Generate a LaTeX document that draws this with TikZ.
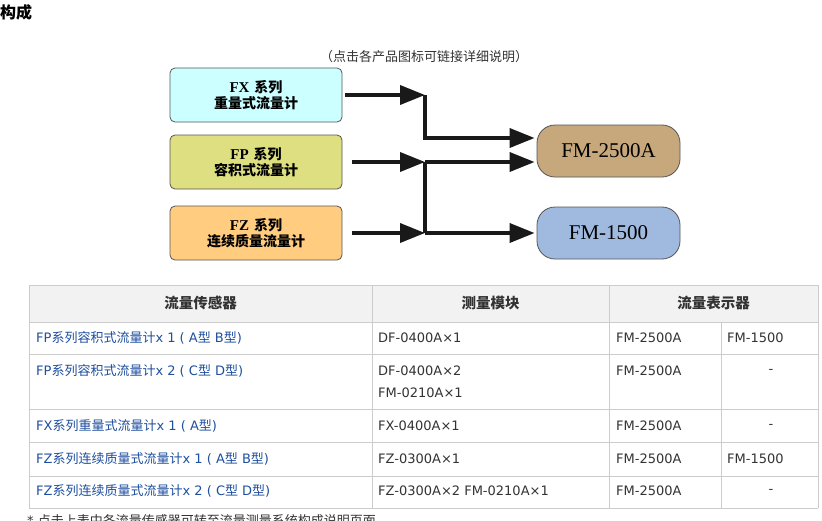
\documentclass[tikz,border=0pt]{standalone}
\usepackage{fontspec}
\setmainfont{DejaVu Sans}
\newfontfamily\cjk{Noto Sans CJK SC}
\newfontfamily\serifrm{Liberation Serif}
\usetikzlibrary{arrows.meta,calc}
\definecolor{fxcol}{HTML}{CCFFFF}
\definecolor{fpcol}{HTML}{DDDF80}
\definecolor{fzcol}{HTML}{FFCC80}
\definecolor{mAcol}{HTML}{C6A87C}
\definecolor{mBcol}{HTML}{A0B9DE}
\definecolor{boxedge}{HTML}{555555}
\definecolor{grid}{HTML}{CCCCCC}
\definecolor{headbg}{HTML}{F2F2F2}
\definecolor{linkcol}{HTML}{1F4F9F}
\definecolor{txt}{HTML}{333333}
\newcommand\zh[1]{{\cjk #1}}
\newcommand\latb[1]{{\serifrm\fontsize{15}{16}\selectfont #1}}
\tikzset{
  srcbox/.style={draw=boxedge, line width=0.8pt, rounded corners=5pt, minimum width=172pt, minimum height=54pt, inner sep=0pt, align=center, font=\fontsize{14}{16.5}\selectfont\bfseries},
  dstbox/.style={draw=boxedge, line width=0.8pt, rounded corners=18pt, minimum width=143pt, minimum height=52pt, inner sep=0pt, font=\serifrm\fontsize{21}{24}\selectfont},
  arr/.style={line width=3.6pt, color=black!90, -{Triangle[length=25pt,width=19pt]}},
  shaft/.style={line width=3.6pt, color=black!90},
  gridline/.style={draw=grid, line width=0.8pt},
  cell/.style={anchor=west, inner sep=0pt, text=txt, font=\fontsize{13}{16}\selectfont},
  linkcell/.style={cell, text=linkcol},
  headcell/.style={inner sep=0pt, text=txt, font=\cjk\fontsize{14.5}{17}\selectfont\bfseries},
}
\begin{document}
\begin{tikzpicture}[x=1pt,y=-1pt]
\useasboundingbox (0,0) rectangle (822,520);
\fill[white] (0,0) rectangle (822,520);
% title and caption
\node[anchor=west, inner sep=0pt, font=\cjk\fontsize{16}{18}\selectfont\bfseries] (title) at (0,12) {构成};
\node[inner sep=0pt, text=txt, font=\cjk\fontsize{13}{15}\selectfont] (caption) at (424,57) {（点击各产品图标可链接详细说明）};
% source boxes
\node[srcbox, fill=fxcol] (fx) at (256,95) {\latb{FX} \zh{系列}\\\zh{重量式流量计}};
\node[srcbox, fill=fpcol] (fp) at (256,162) {\latb{FP} \zh{系列}\\\zh{容积式流量计}};
\node[srcbox, fill=fzcol] (fz) at (256,233) {\latb{FZ} \zh{系列}\\\zh{连续质量流量计}};
% destination boxes
\node[dstbox, fill=mAcol] (m25) at (608.5,151) {FM-2500A};
\node[dstbox, fill=mBcol] (m15) at (608.5,233) {FM-1500};
% junctions
\coordinate (j1) at (425,95);
\coordinate (j2) at (425,162);
\coordinate (j3) at (425,233);
% connectors
\draw[shaft] (j2) -- (j3);
\draw[arr] ([xshift=3pt]fx.east) -- (j1);
\draw[arr] (j1) |- ([xshift=-2pt,yshift=13pt]m25.west);
\draw[arr] ([xshift=10pt]fp.east) -- (j2);
\draw[arr] (j2) -- ([xshift=-2pt,yshift=-11pt]m25.west);
\draw[arr] ([xshift=10pt]fz.east) -- (j3);
\draw[arr] (j3) -- ([xshift=-2pt]m15.west);
% table
\fill[headbg] (29,285) rectangle (818,322);
\foreach \yy in {285,322,354,409,442,476,508} \draw[gridline] (29,\yy) -- (818,\yy);
\draw[gridline] (29,285) -- (29,508);
\draw[gridline] (818,285) -- (818,508);
\draw[gridline] (372,285) -- (372,508);
\draw[gridline] (609,285) -- (609,508);
\draw[gridline] (721,322) -- (721,508);
\node[headcell] (h1) at (200.5,303) {流量传感器};
\node[headcell] (h2) at (490.5,303) {测量模块};
\node[headcell] (h3) at (713.5,303) {流量表示器};
% row 1
\node[linkcell] (r1a) at (36,338) {FP\zh{系列容积式流量计}x 1 ( A\zh{型} B\zh{型})};
\node[cell] (r1b) at (378,338) {DF-0400A×1};
\node[cell] (r1c) at (616,338) {FM-2500A};
\node[cell] (r1d) at (727,338) {FM-1500};
% row 2
\node[linkcell] (r2a) at (36,371) {FP\zh{系列容积式流量计}x 2 ( C\zh{型} D\zh{型})};
\node[cell] (r2b) at (378,371) {DF-0400A×2};
\node[cell] (r2b2) at (378,393) {FM-0210A×1};
\node[cell] (r2c) at (616,371) {FM-2500A};
\node[cell, anchor=center] (r2d) at (771,371) {-};
% row 3
\node[linkcell] (r3a) at (36,426) {FX\zh{系列重量式流量计}x 1 ( A\zh{型})};
\node[cell] (r3b) at (378,426) {FX-0400A×1};
\node[cell] (r3c) at (616,426) {FM-2500A};
\node[cell, anchor=center] (r3d) at (771,426) {-};
% row 4
\node[linkcell] (r4a) at (36,459) {FZ\zh{系列连续质量式流量计}x 1 ( A\zh{型} B\zh{型})};
\node[cell] (r4b) at (378,459) {FZ-0300A×1};
\node[cell] (r4c) at (616,459) {FM-2500A};
\node[cell] (r4d) at (727,459) {FM-1500};
% row 5
\node[linkcell] (r5a) at (36,491) {FZ\zh{系列连续质量式流量计}x 2 ( C\zh{型} D\zh{型})};
\node[cell] (r5b) at (378,491) {FZ-0300A×2 FM-0210A×1};
\node[cell] (r5c) at (616,491) {FM-2500A};
\node[cell, anchor=center] (r5d) at (771,491) {-};
% footer (cut by page edge, as in the reference)
\node[cell] (foot) at (27,520.5) {* \zh{点击上表中各流量传感器可转至流量测量系统构成说明页面}};
\end{tikzpicture}
\end{document}
